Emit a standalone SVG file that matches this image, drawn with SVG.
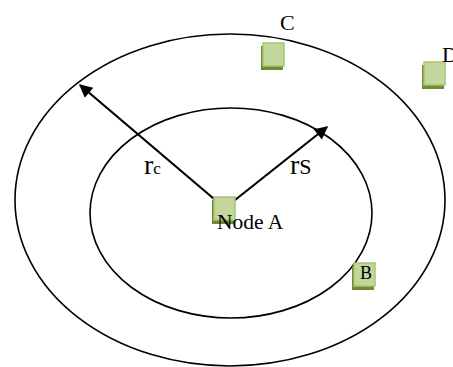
<svg xmlns="http://www.w3.org/2000/svg" width="453" height="367" viewBox="0 0 453 367">
<style>
.ring{fill:none;stroke:#000;stroke-width:1.6}
.edge{stroke:#000;stroke-width:2.2;fill:none}
.sq{fill:#c3d69b;stroke:#a9c46f;stroke-width:1.5}
.sh{fill:#6f8a36}
.t{font-family:"Liberation Serif","DejaVu Serif",serif;fill:#000}
</style>
<defs>
<marker id="ah" viewBox="0 0 10 10" refX="9" refY="5" markerWidth="7.5" markerHeight="6" markerUnits="strokeWidth" orient="auto">
<path d="M0,0 L10,5 L0,10 z" fill="#000"/>
</marker>
</defs>
<g id="rings">
<ellipse class="ring" cx="230" cy="200" rx="215" ry="166"/>
<ellipse class="ring" cx="231" cy="213" rx="141" ry="105"/>
</g>
<g id="connectors">
<line class="edge" x1="220" y1="204" x2="80" y2="85" marker-end="url(#ah)"/>
<line class="edge" x1="230" y1="204" x2="327" y2="127" marker-end="url(#ah)"/>
</g>
<g id="labels">
<text class="t" x="144" y="174" font-size="28">r<tspan font-size="17">c</tspan></text>
<text class="t" x="290" y="174" font-size="28">r<tspan font-size="22">S</tspan></text>
</g>
<g id="nodeA">
<rect class="sh" x="212" y="200" width="22" height="24"/>
<rect class="sq" x="214" y="197" width="21" height="23"/>
<text class="t" x="217" y="229" font-size="21.5">Node A</text>
</g>
<g id="nodeB">
<rect class="sh" x="352" y="266" width="22" height="24"/>
<rect class="sq" x="354" y="263" width="21" height="23"/>
<text class="t" x="360" y="279" font-size="18">B</text>
</g>
<g id="nodeC">
<rect class="sh" x="261" y="46" width="22" height="24"/>
<rect class="sq" x="263" y="43" width="21" height="23"/>
<text class="t" x="280" y="30" font-size="22">C</text>
</g>
<g id="nodeD">
<rect class="sh" x="422" y="65" width="22" height="24"/>
<rect class="sq" x="424" y="62" width="21" height="23"/>
<text class="t" x="442" y="62" font-size="22">D</text>
</g>
</svg>
